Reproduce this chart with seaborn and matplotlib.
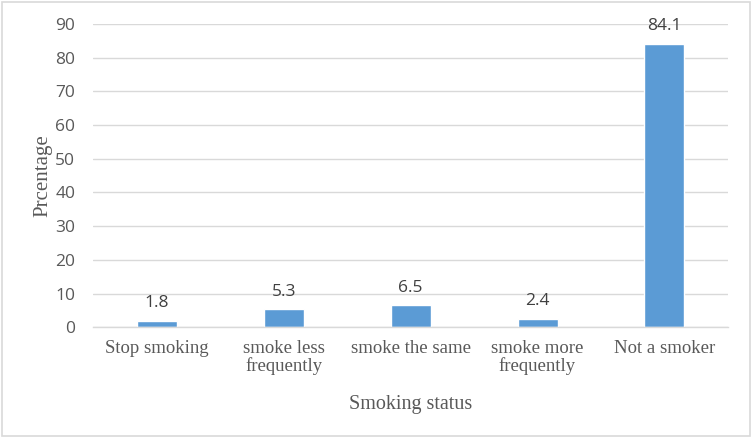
import pandas as pd
import matplotlib
matplotlib.use('Agg')
import matplotlib.pyplot as plt
import seaborn as sns
from matplotlib.patches import Rectangle

# chart data
status = ['Stop smoking', 'smoke less\nfrequently', 'smoke the same',
          'smoke more\nfrequently', 'Not a smoker']
percent = [1.8, 5.3, 6.5, 2.4, 84.1]
yticks = [0, 10, 20, 30, 40, 50, 60, 70, 80, 90]

df = pd.DataFrame({'status': status, 'percent': percent})

sns.set_theme(style='white')
plt.rcParams['font.family'] = ['Liberation Serif', 'DejaVu Serif']

fig = plt.figure(figsize=(7.52, 4.38), dpi=100)
ax = fig.add_axes([0.124, 0.253, 0.844, 0.692])

sns.barplot(x='status', y='percent', data=df, color='#5B9BD5',
            saturation=1, width=0.315, ax=ax)

ax.set_ylim(0, 90)
ax.set_xlim(-0.5, 4.5)
ax.set_yticks(yticks)
ax.set_yticklabels([str(t) for t in yticks], family=['Open Sans', 'DejaVu Sans'],
                   fontsize=12.5, color='#595959')
ax.tick_params(axis='x', labelsize=13.5, colors='#595959', length=0, pad=9)
ax.tick_params(axis='y', length=0, pad=13)
for lbl in ax.get_xticklabels():
    lbl.set_linespacing(1.0)

ax.grid(axis='y', color='#D9D9D9', linewidth=1)
ax.set_axisbelow(True)
for s in ['top', 'right', 'left']:
    ax.spines[s].set_visible(False)
ax.spines['bottom'].set_color('#D9D9D9')
ax.spines['bottom'].set_linewidth(1)

for i, v in enumerate(percent):
    ax.annotate(f'{v}', (i, v), xytext=(0, 7), textcoords='offset points',
                ha='center', va='bottom', fontsize=12.5, color='#404040',
                family=['Open Sans', 'DejaVu Sans'])

ax.set_xlabel('Smoking status', fontsize=14.5, color='#595959', labelpad=15)
ax.set_ylabel('Prcentage', fontsize=15, color='#595959', labelpad=2)

fig.patches.append(Rectangle((0.003, 0.004), 0.994, 0.992, transform=fig.transFigure,
                             fill=False, edgecolor='#D9D9D9', linewidth=1.2))

plt.savefig('out.png', dpi=100)
